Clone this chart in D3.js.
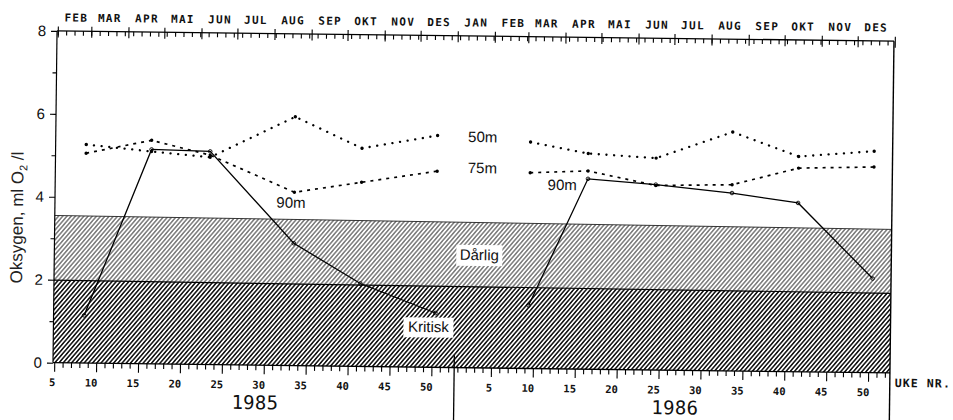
<!DOCTYPE html>
<html><head><meta charset="utf-8">
<script src="https://cdn.jsdelivr.net/npm/d3@7"></script>
<style>body{margin:0;background:#fff}svg{display:block}</style>
</head><body><svg id="c" width="953" height="420"></svg>
<script>
// ---- data ----
const weeks1985 = [8.5, 16.3, 23.3, 33.4, 41.4, 50.4];
const weeks1986 = [9.4, 16.3, 24.4, 33.5, 41.4, 50.4];
const o50m1985 = [5.27, 5.12, 5.0, 6.0, 5.26, 5.59];
const o75m1985 = [5.06, 5.39, 5.05, 4.18, 4.44, 4.73];
const o90m1985 = [1.15, 5.17, 5.14, 2.95, 2.0, 1.31];
const o50m1986 = [5.46, 5.2, 5.11, 5.76, 5.19, 5.34];
const o75m1986 = [4.72, 4.78, 4.45, 4.49, 4.91, 4.96];
const o90m1986 = [1.52, 4.59, 4.47, 4.29, 4.07, 2.27];
const years = [1985, 1986];
const weekOffset = {1985: 0, 1986: 52.1};
const monthNames = ["JAN","FEB","MAR","APR","MAI","JUN","JUL","AUG","SEP","OKT","NOV","DES"];
const yTickValues = [0,1,2,3,4,5,6,7,8];
const weekLabelValues = [5,10,15,20,25,30,35,40,45,50];
const darligTop = [3.55, 3.46];   // left, right
const kritiskTop = [1.99, 1.92];  // left, right

// ---- scales ----
const tStart = 4.85, tEnd = 104.7;
const x = d3.scaleLinear().domain([tStart, tEnd]).range([55, 892]);
const y = d3.scaleLinear().domain([0, 8]).range([367.8, 36]);
const feb1 = new Date(1985, 1, 1);
const tOfDate = d => 5 + (d - feb1) / 864e5 / 7;

const svg = d3.select("#c");
const defs = svg.append("defs");
function hatch(id, sw, gap) {
  const p = defs.append("pattern").attr("id", id).attr("patternUnits", "userSpaceOnUse")
    .attr("width", gap).attr("height", 10).attr("patternTransform", "rotate(40)");
  p.append("rect").attr("width", gap).attr("height", 10).attr("fill", "#fff");
  p.append("line").attr("x1", gap / 2).attr("x2", gap / 2).attr("y1", -1).attr("y2", 11)
    .attr("stroke", "#111").attr("stroke-width", sw);
}
hatch("hLight", 0.85, 3.2);
hatch("hDark", 1.55, 3.2);

const g = svg.append("g").attr("transform", "rotate(0.7,473,200)");
const mono = "'DejaVu Sans Mono', monospace";
const sans = "'Liberation Sans', Arial, sans-serif";

// ---- bands ----
g.append("path").attr("fill", "url(#hLight)")
  .attr("d", d3.line()([[x(tStart), y(kritiskTop[0])], [x(tEnd), y(kritiskTop[1])],
    [x(tEnd), y(darligTop[1])], [x(tStart), y(darligTop[0])]]) + "Z");
g.append("path").attr("fill", "url(#hDark)")
  .attr("d", d3.line()([[x(tStart), y(0)], [x(tEnd), y(0)],
    [x(tEnd), y(kritiskTop[1])], [x(tStart), y(kritiskTop[0])]]) + "Z");
g.append("line").attr("x1", x(tStart)).attr("x2", x(tEnd))
  .attr("y1", y(darligTop[0])).attr("y2", y(darligTop[1])).attr("stroke", "#222").attr("stroke-width", 0.9);
g.append("line").attr("x1", x(tStart)).attr("x2", x(tEnd))
  .attr("y1", y(kritiskTop[0])).attr("y2", y(kritiskTop[1])).attr("stroke", "#000").attr("stroke-width", 1.2);

// ---- series ----
const series = [
  {vals: {1985: o50m1985, 1986: o50m1986}, dash: "0.1 7.6", w: 2.3, cap: "round", marker: "dot"},
  {vals: {1985: o75m1985, 1986: o75m1986}, dash: "3 5", w: 1.7, cap: "butt", marker: "dot"},
  {vals: {1985: o90m1985, 1986: o90m1986}, dash: null, w: 1.3, cap: "butt", marker: "ring"}
];
const weeksOf = {1985: weeks1985, 1986: weeks1986};
const line = d3.line().x(d => x(d[0])).y(d => y(d[1]));
series.forEach(s => {
  years.forEach(yr => {
    const pts = weeksOf[yr].map((w, i) => [w + weekOffset[yr], s.vals[yr][i]]);
    g.append("path").attr("d", line(pts)).attr("fill", "none").attr("stroke", "#000")
      .attr("stroke-width", s.w).attr("stroke-linecap", s.cap)
      .attr("stroke-dasharray", s.dash);
    g.selectAll(null).data(pts).enter().append("circle")
      .attr("cx", d => x(d[0])).attr("cy", d => y(d[1]))
      .attr("r", s.marker === "dot" ? 1.7 : 1.8)
      .attr("fill", s.marker === "dot" ? "#000" : "none")
      .attr("stroke", "#000").attr("stroke-width", s.marker === "dot" ? 0 : 0.9);
  });
});

// ---- frame lines ----
g.append("line").attr("x1", x(tStart)).attr("x2", x(tStart)).attr("y1", y(8)).attr("y2", y(0))
  .attr("stroke", "#000").attr("stroke-width", 1.2);
g.append("line").attr("x1", x(tEnd)).attr("x2", x(tEnd)).attr("y1", y(8)).attr("y2", 432)
  .attr("stroke", "#000").attr("stroke-width", 1.4);
g.append("line").attr("x1", x(tStart)).attr("x2", x(tEnd)).attr("y1", y(8)).attr("y2", y(8))
  .attr("stroke", "#000").attr("stroke-width", 1.3);
g.append("line").attr("x1", x(tStart)).attr("x2", x(tEnd)).attr("y1", y(0)).attr("y2", y(0))
  .attr("stroke", "#000").attr("stroke-width", 1.3);
const jan1986 = tOfDate(new Date(1986, 0, 1));
g.append("line").attr("x1", x(jan1986)).attr("x2", x(jan1986)).attr("y1", y(0.3)).attr("y2", 432)
  .attr("stroke", "#000").attr("stroke-width", 1.3);

// ---- left axis ----
const yAxis = g.append("g").attr("transform", `translate(${x(tStart)},0)`)
  .call(d3.axisLeft(y).tickValues(yTickValues).tickSize(6).tickSizeOuter(0)
    .tickFormat(d => d % 2 === 0 ? d : ""));
yAxis.select(".domain").remove();
yAxis.selectAll(".tick line").attr("x2", d => d % 2 === 0 ? -6 : -4).attr("stroke-width", 1.1);
yAxis.selectAll(".tick text").attr("x", -11).attr("font-family", sans).attr("font-size", 15).attr("fill", "#111");

// ---- bottom axes (weeks) ----
years.forEach(yr => {
  const xs = x.copy().domain([tStart - weekOffset[yr], tEnd - weekOffset[yr]]);
  const wk = yr === 1985 ? d3.range(5, 53) : d3.range(1, 53);
  const ax = g.append("g").attr("transform", `translate(0,${y(0)})`)
    .call(d3.axisBottom(xs).tickValues(wk).tickSize(5).tickSizeOuter(0)
      .tickFormat(d => d % 5 === 0 ? d : ""));
  ax.select(".domain").remove();
  ax.selectAll(".tick line").attr("y2", d => d % 5 === 0 ? 9 : 5).attr("stroke-width", 1.1);
  ax.selectAll(".tick text").attr("text-anchor", "end").attr("x", 1).attr("y", 16)
    .attr("font-family", mono).attr("font-weight", "bold").attr("font-size", 10.5).attr("fill", "#111");
  g.append("text").attr("x", xs(yr === 1985 ? 29 : 27)).attr("y", y(0) + 44)
    .attr("text-anchor", "middle").attr("font-family", mono).attr("font-size", 19)
    .attr("letter-spacing", 0.3).attr("fill", "#111").text(yr);
});
g.append("text").attr("x", x(tEnd) + 5).attr("y", y(0) + 14)
  .attr("font-family", mono).attr("font-weight", "bold").attr("font-size", 11.5)
  .attr("letter-spacing", 1.1).attr("fill", "#111").text("UKE NR.");

// ---- top axis (months) ----
const monthStarts = d3.timeMonths(new Date(1985, 1, 1), new Date(1987, 0, 2));
const topAx = g.append("g").attr("transform", `translate(0,${y(8)})`);
topAx.selectAll(null).data(d3.range(5, 105)).enter().append("line")
  .attr("x1", d => x(d)).attr("x2", d => x(d)).attr("y1", 0).attr("y2", 4.5)
  .attr("stroke", "#000").attr("stroke-width", 1.1);
topAx.selectAll(null).data(monthStarts).enter().append("line")
  .attr("x1", d => x(tOfDate(d))).attr("x2", d => x(tOfDate(d))).attr("y1", -4.5).attr("y2", 6.5)
  .attr("stroke", "#000").attr("stroke-width", 1.1);
topAx.selectAll(null).data(monthStarts.slice(0, -1)).enter().append("text")
  .attr("x", d => x(tOfDate(d)) + 6).attr("y", -9.5)
  .attr("font-family", mono).attr("font-weight", "bold").attr("font-size", 11)
  .attr("letter-spacing", 1.3).attr("fill", "#111")
  .text(d => monthNames[d.getMonth()]);

// ---- y title ----
g.append("text").attr("transform", "translate(23,223) rotate(-90)")
  .attr("text-anchor", "middle").attr("font-family", sans).attr("font-size", 17).attr("fill", "#222")
  .html('Oksygen, ml O<tspan font-size="11" dy="4">2</tspan><tspan dy="-4"> /l</tspan>');

// ---- annotations ----
function label(txt, cx, base, box) {
  if (box) g.append("rect").attr("x", box[0]).attr("y", box[1]).attr("width", box[2]).attr("height", box[3]).attr("fill", "#fff");
  g.append("text").attr("x", cx).attr("y", base).attr("text-anchor", "middle")
    .attr("font-family", sans).attr("font-size", 15).attr("fill", "#111").text(txt);
}
label("50m", 482, 142);
label("75m", 482, 173);
label("90m", 291, 210);
label("90m", 562, 189);
label("Dårlig", 480, 260, [457, 245, 46, 21]);
label("Kritisk", 430, 332.5, [405, 318, 50, 20]);
</script></body></html>
